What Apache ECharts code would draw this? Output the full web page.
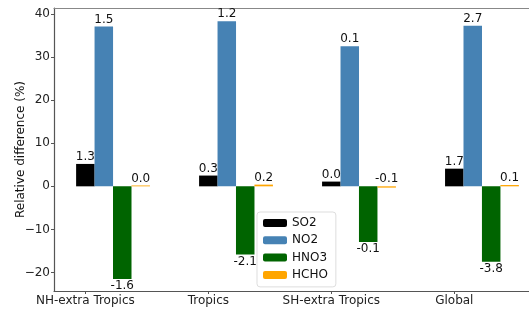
<!DOCTYPE html>
<html>
<head>
<meta charset="utf-8">
<script src="https://cdn.jsdelivr.net/npm/echarts@6/dist/echarts.min.js"></script>
<style>
  html, body { margin: 0; padding: 0; background: #fff; }
  #chart { width: 529px; height: 311px; }
</style>
</head>
<body>
<div id="chart"></div>
<script>
// regions on the x axis
var regions = ['NH-extra Tropics', 'Tropics', 'SH-extra Tropics', 'Global'];
var species = ['SO2', 'NO2', 'HNO3', 'HCHO'];
var colors = ['#000000', '#4682b4', '#006400', '#ffa500'];

// bar heights (relative difference, %)
var so2  = [5.2, 2.5, 1.1, 4.1];
var no2  = [37.1, 38.3, 32.5, 37.3];
var hno3 = [-21.5, -15.8, -12.9, -17.5];
var hcho = [0.2, 0.4, -0.3, 0.3];

// numbers printed on the bars
var so2Text  = ['1.3', '0.3', '0.0', '1.7'];
var no2Text  = ['1.5', '1.2', '0.1', '2.7'];
var hno3Text = ['-1.6', '-2.1', '-0.1', '-3.8'];
var hchoText = ['0.0', '0.2', '-0.1', '0.1'];

var yTicks = [-20, -10, 0, 10, 20, 30, 40];

var values = [so2, no2, hno3, hcho];
var texts = [so2Text, no2Text, hno3Text, hchoText];
var font = 'DejaVu Sans';
var fs = 12;
var w = 0.15; // bar width in x units

var series = species.map(function (name, k) {
    return {
        name: name,
        type: 'bar',
        barWidth: 18.5,
        barGap: '-100%',
        itemStyle: { color: colors[k] },
        data: values[k].map(function (v, i) {
            var below = v < 0 && k === 2;
            return {
                value: [i + k * w, v],
                label: {
                    show: true,
                    position: below ? 'bottom' : 'top',
                    distance: 1,
                    formatter: texts[k][i],
                    color: '#111',
                    fontFamily: font,
                    fontSize: fs
                }
            };
        })
    };
});

var myChart = echarts.init(document.getElementById('chart'));
var option = {
    animation: false,
    grid: {
        left: 54, top: 8, width: 487, height: 283,
        outerBoundsMode: 'none'
    },
    legend: {
        orient: 'vertical',
        left: 257, top: 212,
        itemWidth: 24, itemHeight: 8, itemGap: 5.3,
        padding: [5, 8, 6, 6],
        backgroundColor: 'rgba(255,255,255,0.85)',
        borderColor: '#ddd', borderWidth: 1, borderRadius: 3,
        textStyle: { fontFamily: font, fontSize: fs, color: '#111' },
        data: species
    },
    xAxis: [{
        type: 'value',
        min: -0.255, max: 3.705,
        splitLine: { show: false },
        axisLine: { show: true, onZero: false, lineStyle: { color: '#555', width: 1.2 } },
        axisTick: { show: true, length: 3, lineStyle: { color: '#555' }, customValues: [0, 1, 2, 3] },
        axisLabel: {
            customValues: [0, 1, 2, 3],
            formatter: function (v) { return regions[Math.round(v)]; },
            fontFamily: font, fontSize: fs, color: '#222', margin: 4
        }
    }, {
        // top spine only
        type: 'value',
        position: 'top',
        min: -0.255, max: 3.705,
        splitLine: { show: false },
        axisLine: { show: true, onZero: false, lineStyle: { color: '#888', width: 1.2 } },
        axisTick: { show: false },
        axisLabel: { show: false }
    }],
    yAxis: {
        type: 'value',
        min: -24.3, max: 41.4,
        name: 'Relative difference (%)',
        nameLocation: 'middle',
        nameGap: 27,
        nameMoveOverlap: false,
        nameTextStyle: { fontFamily: font, fontSize: fs, color: '#111' },
        splitLine: { show: false },
        axisLine: { show: true, onZero: false, lineStyle: { color: '#555', width: 1.2 } },
        axisTick: { show: true, length: 3, lineStyle: { color: '#555' }, customValues: yTicks },
        axisLabel: {
            customValues: yTicks,
            formatter: function (v) { return String(v).replace('-', '\u2212'); },
            fontFamily: font, fontSize: fs, color: '#222', margin: 4
        }
    },
    series: series
};
myChart.setOption(option);
</script>
</body>
</html>
